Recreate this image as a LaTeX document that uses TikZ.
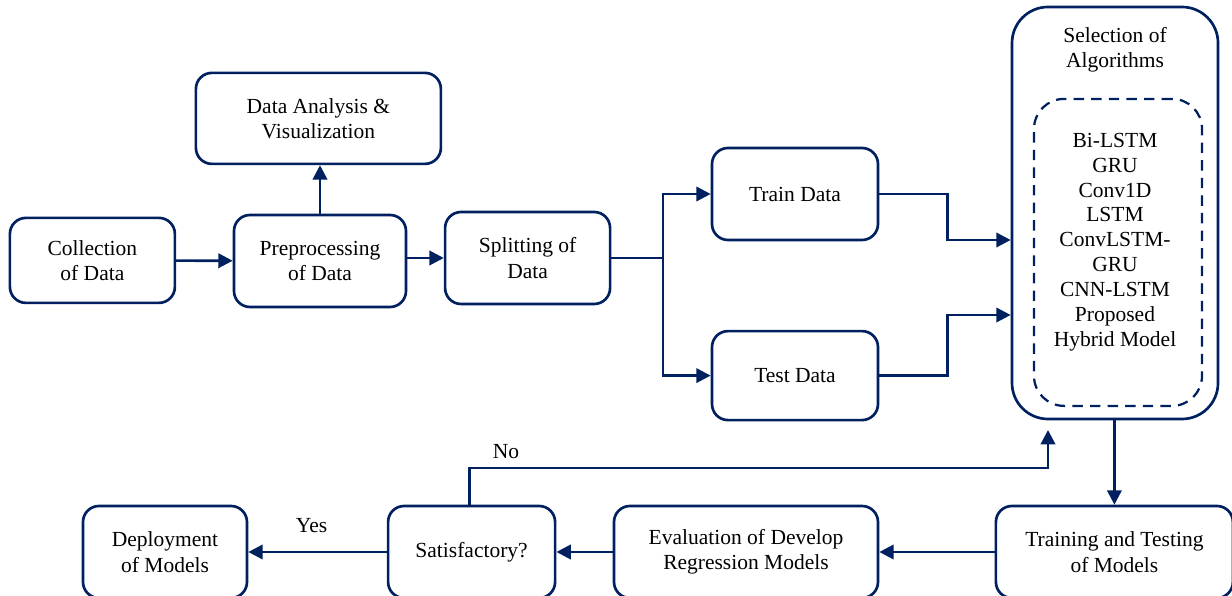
\documentclass[tikz,border=0pt]{standalone}
\usepackage{fontspec}
\setmainfont{Liberation Serif}
\usetikzlibrary{arrows.meta}

\definecolor{navy}{RGB}{0,32,96}

\begin{document}
\begin{tikzpicture}[
    box/.style={draw=navy, line width=1.9pt, rounded corners=0.4cm, align=center, inner sep=0pt,
        font=\fontsize{15.3}{18}\selectfont},
    txt/.style={align=center, inner sep=0pt, font=\fontsize{15.3}{17.7}\selectfont},
    arr/.style={draw=navy, line width=1.9pt, -{Triangle[length=0.36cm, width=0.36cm]}},
    wire/.style={draw=navy, line width=1.9pt}]
    \useasboundingbox (0,0) rectangle (30.8,14.9);

    % data preparation
    \node[box, minimum width=4.125cm, minimum height=2.125cm] (coll) at (2.31, 8.39) {Collection\\of Data};
    \node[box, minimum width=4.3cm, minimum height=2.3cm] (prep) at (8.0, 8.375) {Preprocessing\\of Data};
    \node[box, minimum width=6.125cm, minimum height=2.275cm] (ana) at (7.96, 11.94) {Data Analysis \&\\Visualization};
    \node[box, minimum width=4.125cm, minimum height=2.3cm] (split) at (13.19, 8.45) {Splitting of\\Data};
    \node[box, minimum width=4.15cm, minimum height=2.3cm] (train) at (19.875, 10.05) {Train Data};
    \node[box, minimum width=4.15cm, minimum height=2.225cm] (test) at (19.875, 5.51) {Test Data};

    % algorithms
    \node[box, rounded corners=0.9cm, minimum width=5.15cm, minimum height=10.3cm] (sel) at (27.875, 9.575) {};
    \node[txt] (seltitle) at (27.875, 13.65) {Selection of\\Algorithms};
    \node[draw=navy, line width=1.6pt, dash pattern=on 0.26cm off 0.18cm, rounded corners=0.75cm,
        minimum width=4.2cm, minimum height=7.675cm] (algos) at (27.95, 8.59) {};
    \node[txt] (models) at (27.875, 8.85) {Bi-LSTM\\GRU\\Conv1D\\LSTM\\ConvLSTM-\\GRU\\CNN-LSTM\\Proposed\\Hybrid Model};

    % bottom row
    \node[box, minimum width=4.1cm, minimum height=2.3cm] (deploy) at (4.125, 1.1) {Deployment\\of Models};
    \node[box, minimum width=4.175cm, minimum height=2.3cm] (sat) at (11.79, 1.1) {Satisfactory?};
    \node[box, minimum width=6.6cm, minimum height=2.3cm] (eval) at (18.65, 1.1) {Evaluation of Develop\\Regression Models};
    \node[box, minimum width=5.925cm, minimum height=2.3cm] (fit) at (27.86, 1.1) {Training and Testing\\of Models};

    % connectors
    \draw[arr] (coll) -- (prep);
    \draw[arr] (prep.north) -- (prep.north |- ana.south);
    \draw[arr] (prep.east |- split.west) -- (split.west);
    \draw[wire] (split.east) -- ++(1.29,0) coordinate (fork);
    \draw[arr] (fork) |- (train.west);
    \draw[arr] (fork) |- (test.west);
    \draw[arr] (train.east) -- ++(1.7,0) |- ([yshift=-0.675cm]sel.west);
    \draw[arr] (test.east) -- ++(1.7,0) |- ([yshift=-2.55cm]sel.west);
    \draw[arr] (sel.south -| fit.north) -- (fit.north);
    \draw[arr] (fit) -- (eval);
    \draw[arr] (eval) -- (sat);
    \draw[arr] (sat) -- node[txt, above=0.45cm, xshift=-0.15cm] (yes) {Yes} (deploy);

    % loop back
    \coordinate (back) at (26.2, 4.15);
    \draw[arr] ([xshift=-0.06cm]sat.north) |- (13.5, 3.2) -| (back);
    \node[txt] (no) at (12.65, 3.6) {No};
\end{tikzpicture}
\end{document}
